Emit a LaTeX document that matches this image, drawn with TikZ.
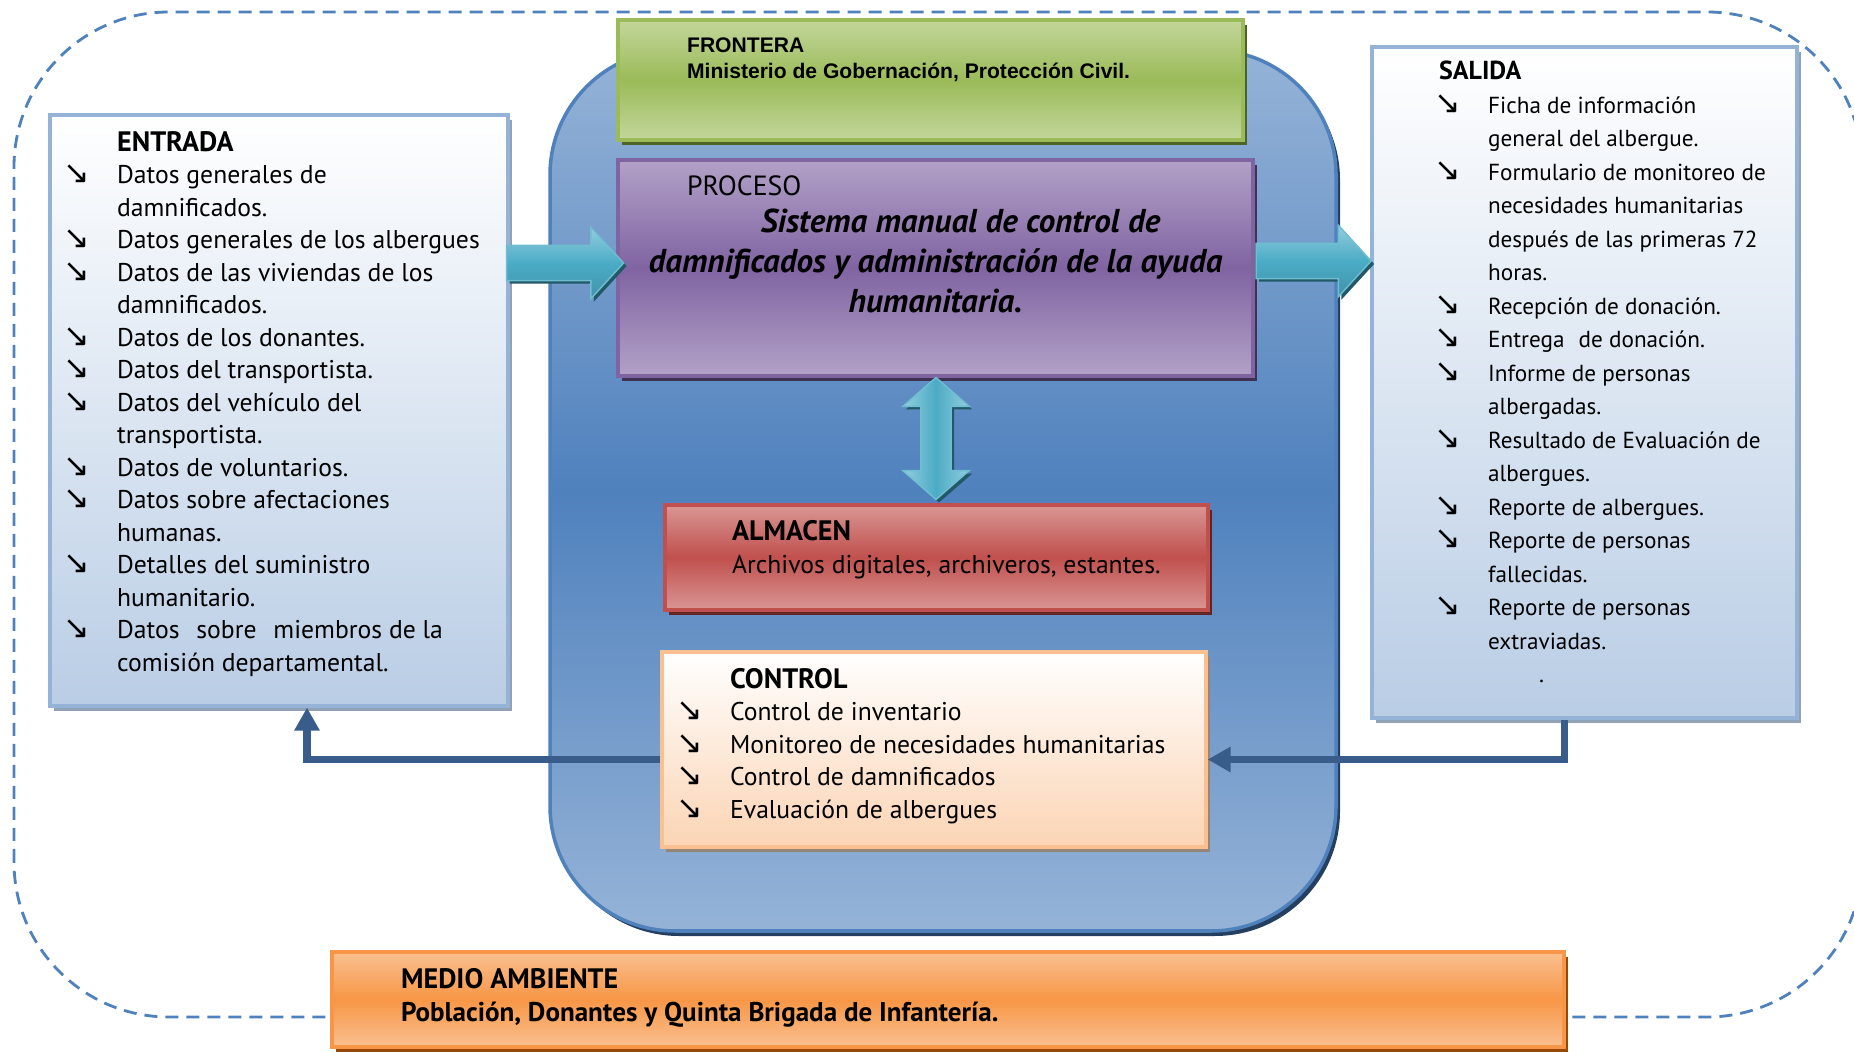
\documentclass[tikz,border=0pt]{standalone}
\usepackage{fontspec}
\setmainfont{PT Sans}
\newfontfamily\arialfont{Liberation Sans}
\newfontfamily\simbfont{DejaVu Sans}
\usepackage{tikz}
\usetikzlibrary{
  shapes.arrows, arrows.meta, positioning, calc, shadows, backgrounds
}
\definecolor{limiteazul}{HTML}{4F81BD}
\definecolor{nucleoclaro}{HTML}{95B3D7}
\definecolor{nucleooscuro}{HTML}{4F81BD}
\definecolor{nucleosombra}{HTML}{243F60}
\definecolor{panelclaro}{HTML}{B9CDE5}
\definecolor{panelborde}{HTML}{95B3D7}
\definecolor{panelsombra}{HTML}{92A2B6}
\definecolor{verdeclaro}{HTML}{C3D69B}
\definecolor{verdemedio}{HTML}{9BBB59}
\definecolor{verdesombra}{HTML}{4F6228}
\definecolor{moradoclaro}{HTML}{B2A1C7}
\definecolor{moradomedio}{HTML}{8064A2}
\definecolor{moradosombra}{HTML}{3F3151}
\definecolor{rojoclaro}{HTML}{D99694}
\definecolor{rojomedio}{HTML}{C0504D}
\definecolor{rojosombra}{HTML}{632523}
\definecolor{durazno}{HTML}{FBD4B4}
\definecolor{duraznoborde}{HTML}{FAC090}
\definecolor{duraznosombra}{HTML}{978677}
\definecolor{naranjaclaro}{HTML}{FAC090}
\definecolor{naranjamedio}{HTML}{F79646}
\definecolor{naranjasombra}{HTML}{984807}
\definecolor{turqclaro}{HTML}{93CDDD}
\definecolor{turquesa}{HTML}{4BACC6}
\definecolor{turqsombra}{HTML}{215968}
\definecolor{retorno}{HTML}{385D8A}
\newcommand{\blt}{\llap{{\simbfont\fontsize{9}{9}\selectfont ↘}\hspace{0.27cm}}}
\newcommand{\titulo}[1]{{\bfseries\fontsize{8}{8}\selectfont #1}}
\tikzset{
  % Cajas con degradado de tres tonos
  caja/.style n args={3}{
    rectangle, inner sep=0pt, draw=#1, line width=0.9pt,
    top color=#2, bottom color=#2, middle color=#1,
    drop shadow={shadow xshift=0.04cm, shadow yshift=-0.05cm, fill=#3, opacity=1},
  },
  % Cajas de entrada / salida
  panel/.style={
    rectangle, inner sep=0pt, draw=panelborde, line width=0.9pt,
    top color=white, bottom color=panelclaro,
    drop shadow={shadow xshift=0.04cm, shadow yshift=-0.05cm, fill=panelsombra, opacity=1},
  },
  % Textos
  texto/.style={anchor=north west, inner sep=0pt, align=left, text=black,
    font=\fontsize{7.3}{9.25}\selectfont},
  % Flechas de bloque
  flecha/.style={
    single arrow, single arrow head extend=0.18cm, single arrow tip angle=95,
    inner xsep=0pt, inner ysep=0.17cm, draw=turquesa!80!white, line width=0.4pt,
    top color=turqclaro, bottom color=turquesa!85!black, middle color=turquesa,
    drop shadow={shadow xshift=0.03cm, shadow yshift=-0.03cm, fill=turqsombra, opacity=1},
  },
  % Flechas de retorno
  retro/.style={-{Triangle[length=2.3mm, width=2.4mm]}, line width=2.1pt, draw=retorno},
}

\begin{document}
\begin{tikzpicture}
  \useasboundingbox (0,0) rectangle (18.54,10.51);

  % Limite del sistema
  \draw[limiteazul, line width=0.8pt, dash pattern=on 0.13cm off 0.08cm,
        rounded corners=1.55cm] (0.14,0.34) rectangle (18.62,10.39);

  % Nucleo del sistema
  \node[rectangle, rounded corners=1.25cm, draw=limiteazul, line width=1pt,
        top color=nucleoclaro, bottom color=nucleoclaro, middle color=nucleooscuro,
        drop shadow={shadow xshift=0.04cm, shadow yshift=-0.05cm, fill=nucleosombra, opacity=1},
        minimum width=7.86cm, minimum height=8.81cm] (nucleo) at (9.43, 5.605) {};

  % FRONTERA
  \node[caja={verdemedio}{verdeclaro}{verdesombra}, minimum width=6.25cm, minimum height=1.2cm]
    (frontera) at (9.305, 9.71) {};
  \node[texto, font=\arialfont\bfseries\fontsize{6}{7.4}\selectfont]
    (fronteratxt) at ([xshift=0.70cm, yshift=-0.19cm]frontera.north west)
    {FRONTERA\\Ministerio de Gobernación, Protección Civil.};

  % PROCESO
  \node[caja={moradomedio}{moradoclaro}{moradosombra}, minimum width=6.35cm, minimum height=2.16cm]
    (proceso) at (9.355, 7.83) {};
  \node[texto, font=\fontsize{7.9}{9}\selectfont] (procesotxt)
    at ([xshift=0.70cm, yshift=-0.17cm]proceso.north west) {PROCESO};
  \node[texto, anchor=north, align=center, font=\bfseries\itshape\fontsize{9.4}{11.3}\selectfont]
    (sistema) at ([yshift=-0.50cm]proceso.north)
    {\hspace*{0.5cm}Sistema manual de control de\\
     damnificados y administración de la ayuda\\
     humanitaria.};

  % ENTRADA
  \node[panel, minimum width=4.58cm, minimum height=5.91cm] (entrada) at (2.79, 6.405) {};
  \node[texto] (entradatxt) at ([xshift=0.68cm, yshift=-0.17cm]entrada.north west)
    {\titulo{ENTRADA}\\
     \blt Datos generales de\\
     damnificados.\\
     \blt Datos generales de los albergues\\
     \blt Datos de las viviendas de los\\
     damnificados.\\
     \blt Datos de los donantes.\\
     \blt Datos del transportista.\\
     \blt Datos del vehículo del\\
     transportista.\\
     \blt Datos de voluntarios.\\
     \blt Datos sobre afectaciones\\
     humanas.\\
     \blt Detalles del suministro\\
     humanitario.\\
     \blt Datos\hspace{0.1cm} sobre\hspace{0.1cm} miembros de la\\
     comisión departamental.};

  % SALIDA
  \node[panel, minimum width=4.25cm, minimum height=6.71cm] (salida) at (15.845, 6.685) {};
  \node[texto, font=\fontsize{6.6}{9.53}\selectfont] (salidatxt)
    at ([xshift=1.17cm, yshift=-0.15cm]salida.north west)
    {\hspace*{-0.49cm}{\bfseries\fontsize{7.4}{7.4}\selectfont SALIDA}\\
     \blt Ficha de información\\
     general del albergue.\\
     \blt Formulario de monitoreo de\\
     necesidades humanitarias\\
     después de las primeras 72\\
     horas.\\
     \blt Recepción de donación.\\
     \blt Entrega\hspace{0.08cm} de donación.\\
     \blt Informe de personas\\
     albergadas.\\
     \blt Resultado de Evaluación de\\
     albergues.\\
     \blt Reporte de albergues.\\
     \blt Reporte de personas\\
     fallecidas.\\
     \blt Reporte de personas\\
     extraviadas.\\
     \hspace*{0.51cm}.};

  % ALMACEN
  \node[caja={rojomedio}{rojoclaro}{rojosombra}, minimum width=5.43cm, minimum height=1.05cm]
    (almacen) at (9.365, 4.935) {};
  \node[texto, font=\fontsize{7.3}{9.36}\selectfont] (almacentxt)
    at ([xshift=0.68cm, yshift=-0.16cm]almacen.north west)
    {\titulo{ALMACEN}\\Archivos digitales, archiveros, estantes.};

  % CONTROL
  \node[rectangle, inner sep=0pt, draw=duraznoborde, line width=0.9pt,
        top color=white, bottom color=durazno,
        drop shadow={shadow xshift=0.04cm, shadow yshift=-0.05cm, fill=duraznosombra, opacity=1},
        minimum width=5.44cm, minimum height=1.95cm] (control) at (9.34, 3.015) {};
  \node[texto] (controltxt) at ([xshift=0.69cm, yshift=-0.17cm]control.north west)
    {\titulo{CONTROL}\\
     \blt Control de inventario\\
     \blt Monitoreo de necesidades humanitarias\\
     \blt Control de damnificados\\
     \blt Evaluación de albergues};

  % MEDIO AMBIENTE
  \node[caja={naranjamedio}{naranjaclaro}{naranjasombra}, minimum width=12.32cm, minimum height=0.95cm]
    (medio) at (9.48, 0.515) {};
  \node[texto, font=\bfseries\fontsize{7.7}{9.36}\selectfont] (mediotxt)
    at ([xshift=0.70cm, yshift=-0.17cm]medio.north west)
    {\titulo{MEDIO AMBIENTE}\\Población, Donantes y Quinta Brigada de Infantería.};

  % Flechas de bloque
  \node[flecha, minimum height=1.17cm] (flechaent)
    at ([xshift=-0.06cm, yshift=0.05cm]$(entrada.east |- proceso.west)!0.5!(proceso.west)$) {};
  \node[flecha, minimum height=1.15cm] (flechasal)
    at ([xshift=-0.07cm, yshift=0.07cm]$(proceso.east)!0.5!(proceso.east -| salida.west)$) {};
  \node[double arrow, shape border rotate=90, double arrow head extend=0.18cm,
        double arrow tip angle=98, inner sep=0.145cm, minimum height=1.22cm,
        draw=turquesa!80!white, line width=0.4pt,
        left color=turqclaro, right color=turqclaro, middle color=turquesa,
        drop shadow={shadow xshift=0.03cm, shadow yshift=-0.03cm, fill=turqsombra, opacity=1}]
    (flechaalm) at ([yshift=0.02cm]$(proceso.south)!0.5!(almacen.north)$) {};

  % Retroalimentacion
  \draw[retro] ([yshift=-0.1cm]control.west) -| ([xshift=0.28cm]entrada.south);
  \draw[retro] ([xshift=-0.2cm]salida.south) |- ([yshift=-0.1cm]control.east);

\end{tikzpicture}
\end{document}
